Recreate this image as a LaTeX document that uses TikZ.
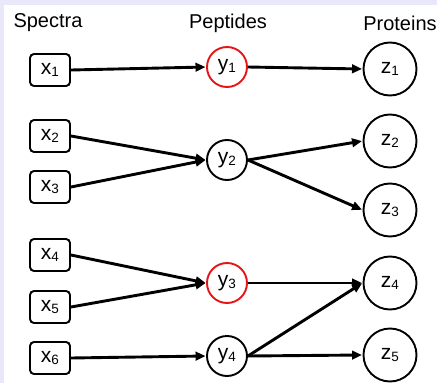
\documentclass[tikz,border=0pt]{standalone}
\usepackage{fontspec}
\setmainfont{Liberation Sans}
\usetikzlibrary{arrows.meta}
\definecolor{framebg}{RGB}{232,232,250}
\definecolor{hitred}{RGB}{230,20,20}
\newcommand{\lbl}[2]{{\fontsize{21}{21}\selectfont #1}\raisebox{-0.35ex}{\fontsize{13.5}{13.5}\selectfont #2}}
\begin{document}
\begin{tikzpicture}[x=1pt,y=-1pt,
  spec/.style={draw,line width=1.9pt,rounded corners=4pt,minimum width=40pt,minimum height=32pt,inner sep=0pt},
  pep/.style={draw,circle,line width=1.9pt,minimum size=40pt,inner sep=0pt},
  hit/.style={pep,draw=hitred},
  prot/.style={draw,circle,line width=1.9pt,minimum size=53pt,inner sep=0pt},
  head/.style={font=\fontsize{20}{20}\selectfont},
  link/.style={line width=2.9pt,-{Triangle[length=10pt,width=8.5pt]},shorten >=0.5pt}]
% page and lavender frame
\fill[framebg] (0,0) rectangle (437,383);
\fill[white] (4,5) rectangle (437,383);
\useasboundingbox (0,0) rectangle (437,383);
% column headings
\node[head] (hs) at (48,23) {Spectra};
\node[head] (hp) at (228,23) {Peptides};
\node[head] (hr) at (400,23) {Proteins};
% spectra
\node[spec] (x1) at (50,70)  {\lbl{x}{1}};
\node[spec] (x2) at (50,136) {\lbl{x}{2}};
\node[spec] (x3) at (50,187) {\lbl{x}{3}};
\node[spec] (x4) at (50,255) {\lbl{x}{4}};
\node[spec] (x5) at (50,307) {\lbl{x}{5}};
\node[spec] (x6) at (50,358) {\lbl{x}{6}};
% peptides
\node[hit] (y1) at (227,67)  {\lbl{y}{1}};
\node[pep] (y2) at (227,160) {\lbl{y}{2}};
\node[hit] (y3) at (227,283) {\lbl{y}{3}};
\node[pep] (y4) at (227,356) {\lbl{y}{4}};
% proteins
\node[prot] (z1) at (390,69)  {\lbl{z}{1}};
\node[prot] (z2) at (390,141) {\lbl{z}{2}};
\node[prot] (z3) at (390,210) {\lbl{z}{3}};
\node[prot] (z4) at (390,283) {\lbl{z}{4}};
\node[prot] (z5) at (390,355) {\lbl{z}{5}};
% spectrum -> peptide
\draw[link] (x1.east) -- (y1.west);
\draw[link] (x2.east) -- (y2.west);
\draw[link] (x3.east) -- (y2.west);
\draw[link] (x4.east) -- (y3.west);
\draw[link] (x5.east) -- (y3.west);
\draw[link] (x6.east) -- (y4.west);
% peptide -> protein
\draw[link] (y1.east) -- (z1.west);
\draw[link] (y2.east) -- (z2.west);
\draw[link] (y2.east) -- (z3.west);
\draw[link] (y3.east) -- (z4.west);
\draw[link] (y4.east) -- (z4.west);
\draw[link] (y4.east) -- (z5.west);
\end{tikzpicture}
\end{document}
